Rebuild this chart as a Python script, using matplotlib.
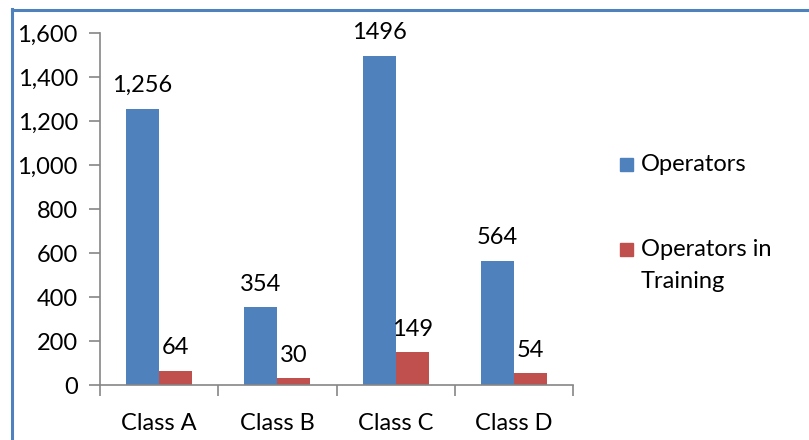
import matplotlib
matplotlib.use("Agg")
import matplotlib.pyplot as plt
import numpy as np
from matplotlib.lines import Line2D
from matplotlib.patches import Rectangle

categories = ["Class A", "Class B", "Class C", "Class D"]
operators = [1256, 354, 1496, 564]
training = [64, 30, 149, 54]
operators_labels = ["1,256", "354", "1496", "564"]
training_labels = ["64", "30", "149", "54"]
yticks = [0, 200, 400, 600, 800, 1000, 1200, 1400, 1600]
series_names = ["Operators", "Operators in\nTraining"]

blue = "#4F81BD"
red = "#C0504D"
plt.rcParams["font.family"] = ["Lato", "DejaVu Sans"]
fs = 17
plt.rcParams["font.size"] = fs

fig = plt.figure(figsize=(8.09, 4.40), dpi=100)
ax = fig.add_axes([100/809, 55/440, 473/809, 352/440])

x = np.arange(len(categories))
w = 0.28
b1 = ax.bar(x - w/2, operators, w, color=blue)
b2 = ax.bar(x + w/2, training, w, color=red)
ax.bar_label(b1, labels=operators_labels, padding=9, fontsize=fs)
ax.bar_label(b2, labels=training_labels, padding=9, fontsize=fs)

ax.set_xlim(-0.5, len(categories) - 0.5)
ax.set_ylim(0, 1600)
ax.set_yticks(yticks)
ax.set_yticklabels([f"{v:,}" for v in yticks])
ax.set_xticks(x)
ax.set_xticklabels(categories)
ax.set_xticks(np.arange(len(categories) + 1) - 0.5, minor=True)
ax.tick_params(axis="x", which="major", length=0, pad=20)
ax.tick_params(axis="x", which="minor", length=8, color="#868686", width=1.2)
ax.tick_params(axis="y", length=8, color="#868686", width=1.2, pad=8)
for s in ["top", "right"]:
    ax.spines[s].set_visible(False)
for s in ["left", "bottom"]:
    ax.spines[s].set_color("#868686")
    ax.spines[s].set_linewidth(1.2)

# legend (manual, Excel-style)
leg_y = [164, 249]
for col, name, yy in zip([blue, red], series_names, leg_y):
    fig.add_artist(Rectangle((620/809, 1 - (yy + 7)/440), 13/809, 13/440,
                             transform=fig.transFigure, color=col))
    fig.text(641/809, 1 - (yy - 10)/440, name, ha="left", va="top",
             fontsize=fs, linespacing=1.65)

fig.add_artist(Line2D([12/809, 12/809], [0, 1 - 9/440], color=blue, lw=2.2))
fig.add_artist(Line2D([12/809, 1], [1 - 10/440, 1 - 10/440], color=blue, lw=2.2))

fig.savefig("out.png", dpi=100)
